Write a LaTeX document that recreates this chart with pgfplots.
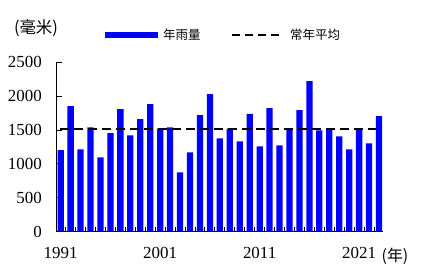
\documentclass[border=0pt]{standalone}
\usepackage{fontspec}
\setmainfont{Liberation Serif}
\newfontfamily\cjk{Noto Sans CJK SC}
\usepackage{pgfplots}
\pgfplotsset{compat=1.18}
\usepackage{pgfplotstable}
\pgfplotstableread{
year rain
1991 1205
1992 1853
1993 1215
1994 1541
1995 1097
1996 1453
1997 1808
1998 1423
1999 1660
2000 1882
2001 1522
2002 1541
2003 875
2004 1171
2005 1719
2006 2031
2007 1378
2008 1522
2009 1334
2010 1739
2011 1260
2012 1823
2013 1275
2014 1512
2015 1794
2016 2223
2017 1497
2018 1512
2019 1408
2020 1215
2021 1512
2022 1304
2023 1705
}\raintable
\begin{document}
\begin{tikzpicture}
\useasboundingbox (-56.7bp,-43.3bp) rectangle (364.3bp,231.7bp);
\begin{axis}[
  at={(0,0)}, anchor=south west,
  scale only axis,
  width=326.6bp, height=169.4bp,
  xmin=1990.6, xmax=2023.43,
  ymin=0, ymax=2500,
  axis x line*=bottom, axis y line*=left,
  axis line style={line width=0.9bp, black},
  xtick={1991,2001,2011,2021},
  minor xtick={1991.5,1992.5,...,2022.5},
  major x tick style={draw=none},
  minor x tick style={black, line width=0.9bp},
  minor tick length=5bp,
  ytick={0,500,1000,1500,2000,2500},
  major tick length=5bp,
  y tick style={black, line width=0.9bp},
  tick align=inside,
  /pgf/number format/assume math mode=true,
  /pgf/number format/1000 sep={},
  tick label style={font=\fontsize{17}{17}\selectfont},
  yticklabel style={anchor=east, inner sep=0pt, xshift=-14.7bp},
  xticklabel style={anchor=north, inner sep=0pt, yshift=-15bp},
  clip=false,
]
\addplot[ybar, bar width=0.63, bar shift=0pt, fill=blue, draw=none] table[x=year, y=rain] {\raintable};
\addplot[black, line width=2.5bp, dash pattern=on 9bp off 5bp] coordinates {(1990.95,1517) (2022.66,1517)};
\end{axis}
% legend
\draw[blue, line width=5.3bp] (48.3bp,196.7bp) -- (101.3bp,196.7bp);
\node[anchor=west, inner sep=0pt, font=\cjk\fontsize{12.5}{12.5}\selectfont] at (106.3bp,196.7bp) {年雨量};
\draw[black, line width=2.5bp, dash pattern=on 8bp off 5bp] (175.3bp,196.7bp) -- (222.3bp,196.7bp);
\node[anchor=west, inner sep=0pt, font=\cjk\fontsize{12.5}{12.5}\selectfont] at (233.3bp,196.7bp) {常年平均};
% unit labels
\node[inner sep=0pt, font=\cjk\fontsize{16.5}{16.5}\selectfont] at (-20.7bp,203.2bp) {(毫米)};
\node[inner sep=0pt, font=\cjk\fontsize{16}{16}\selectfont] at (338.3bp,-24.3bp) {(年)};
\end{tikzpicture}
\end{document}
